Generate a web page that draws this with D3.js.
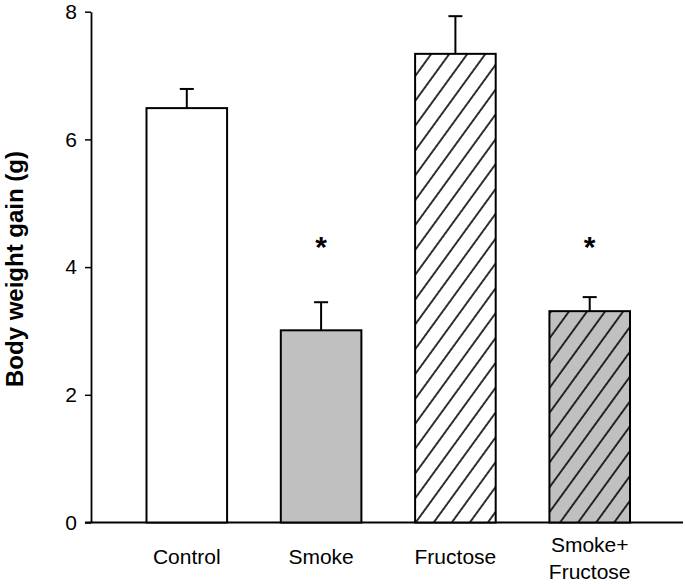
<!DOCTYPE html>
<html>
<head>
<meta charset="utf-8">
<script src="https://cdn.jsdelivr.net/npm/d3@7"></script>
<style>
  body { margin: 0; background: #fff; }
  svg { display: block; }
  text { font-family: "Liberation Sans", Arial, sans-serif; }
</style>
</head>
<body>
<svg></svg>
<script>
// data
const groups = ["Control", "Smoke", "Fructose", "Smoke+Fructose"];
const groupLines = [["Control"], ["Smoke"], ["Fructose"], ["Smoke+", "Fructose"]];
const means = [6.49, 3.01, 7.34, 3.31];
const errTop = [6.79, 3.45, 7.93, 3.53];
const signif = ["", "*", "", "*"];
const yTicks = [0, 2, 4, 6, 8];

const WIDTH = 685;
const HEIGHT = 584;

let svg = d3.select('svg').attr('width', WIDTH).attr('height', HEIGHT);

// fills: white, grey, hatched, grey+hatched
const fills = ["#ffffff", "#c0c0c0", "#ffffff", "#c0c0c0"];
const hatched = [false, false, true, true];

let defs = svg.append('defs');
let pat = defs.append('pattern')
  .attr('id', 'hatch')
  .attr('patternUnits', 'userSpaceOnUse')
  .attr('width', 14.6).attr('height', 10)
  .attr('patternTransform', 'rotate(36)');
pat.append('line')
  .attr('x1', 1).attr('y1', -2).attr('x2', 1).attr('y2', 12)
  .style('stroke', '#000').style('stroke-width', 1.6);

let yScale = d3.scaleLinear().domain([0, 8]).range([522.5, 11.7]);
let xScale = d3.scaleBand().domain(groups).range([146.5, 630])
  .paddingInner(0.4).paddingOuter(0);

// y axis
let yAxis = svg.append('g')
  .attr('transform', 'translate(91,0)')
  .call(d3.axisLeft(yScale).tickValues(yTicks).tickFormat(d3.format('d'))
    .tickSize(6).tickSizeOuter(0).tickPadding(8));
yAxis.select('.domain').style('stroke', '#000').style('stroke-width', 1.8);
yAxis.selectAll('.tick line').style('stroke', '#000').style('stroke-width', 1.5);
yAxis.selectAll('.tick text')
  .style('font-size', '21px').style('fill', '#000')
  .style('font-family', '"Liberation Sans", Arial, sans-serif');

// baseline
svg.append('line')
  .attr('x1', 85).attr('x2', 683)
  .attr('y1', yScale(0)).attr('y2', yScale(0))
  .style('stroke', '#000').style('stroke-width', 1.8);

// error bars (upper only)
groups.forEach(function(g, i) {
  let cx = xScale(g) + xScale.bandwidth() / 2;
  svg.append('line')
    .attr('x1', cx).attr('x2', cx)
    .attr('y1', yScale(means[i])).attr('y2', yScale(errTop[i]))
    .style('stroke', '#000').style('stroke-width', 2);
  svg.append('line')
    .attr('x1', cx - 7).attr('x2', cx + 7)
    .attr('y1', yScale(errTop[i])).attr('y2', yScale(errTop[i]))
    .style('stroke', '#000').style('stroke-width', 2);
});

// bars
groups.forEach(function(g, i) {
  svg.append('rect')
    .attr('x', xScale(g)).attr('width', xScale.bandwidth())
    .attr('y', yScale(means[i])).attr('height', yScale(0) - yScale(means[i]))
    .style('fill', fills[i]);
  if (hatched[i]) {
    svg.append('rect')
      .attr('x', xScale(g)).attr('width', xScale.bandwidth())
      .attr('y', yScale(means[i])).attr('height', yScale(0) - yScale(means[i]))
      .style('fill', 'url(#hatch)');
  }
  svg.append('rect')
    .attr('x', xScale(g)).attr('width', xScale.bandwidth())
    .attr('y', yScale(means[i])).attr('height', yScale(0) - yScale(means[i]))
    .style('fill', 'none').style('stroke', '#000').style('stroke-width', 2);
});

// significance stars (same height above the lower bars)
groups.forEach(function(g, i) {
  if (!signif[i]) return;
  svg.append('text')
    .attr('x', xScale(g) + xScale.bandwidth() / 2)
    .attr('y', yScale(4.42) + 17)
    .attr('text-anchor', 'middle')
    .style('font-size', '30px').style('font-weight', 'bold')
    .text(signif[i]);
});

// category labels
groups.forEach(function(g, i) {
  let lines = groupLines[i];
  let t = svg.append('text')
    .attr('x', xScale(g) + xScale.bandwidth() / 2)
    .attr('text-anchor', 'middle')
    .style('font-size', '21px').style('fill', '#000');
  if (lines.length == 1) {
    t.attr('y', 564).text(lines[0]);
  } else {
    t.attr('y', 552);
    lines.forEach(function(l, j) {
      t.append('tspan')
        .attr('x', xScale(g) + xScale.bandwidth() / 2)
        .attr('dy', j == 0 ? 0 : 27)
        .text(l);
    });
  }
});

// y label
svg.append('text')
  .attr('transform', 'translate(23,269) rotate(-90)')
  .attr('text-anchor', 'middle')
  .style('font-size', '24px').style('font-weight', 'bold')
  .text('Body weight gain (g)');
</script>
</body>
</html>
